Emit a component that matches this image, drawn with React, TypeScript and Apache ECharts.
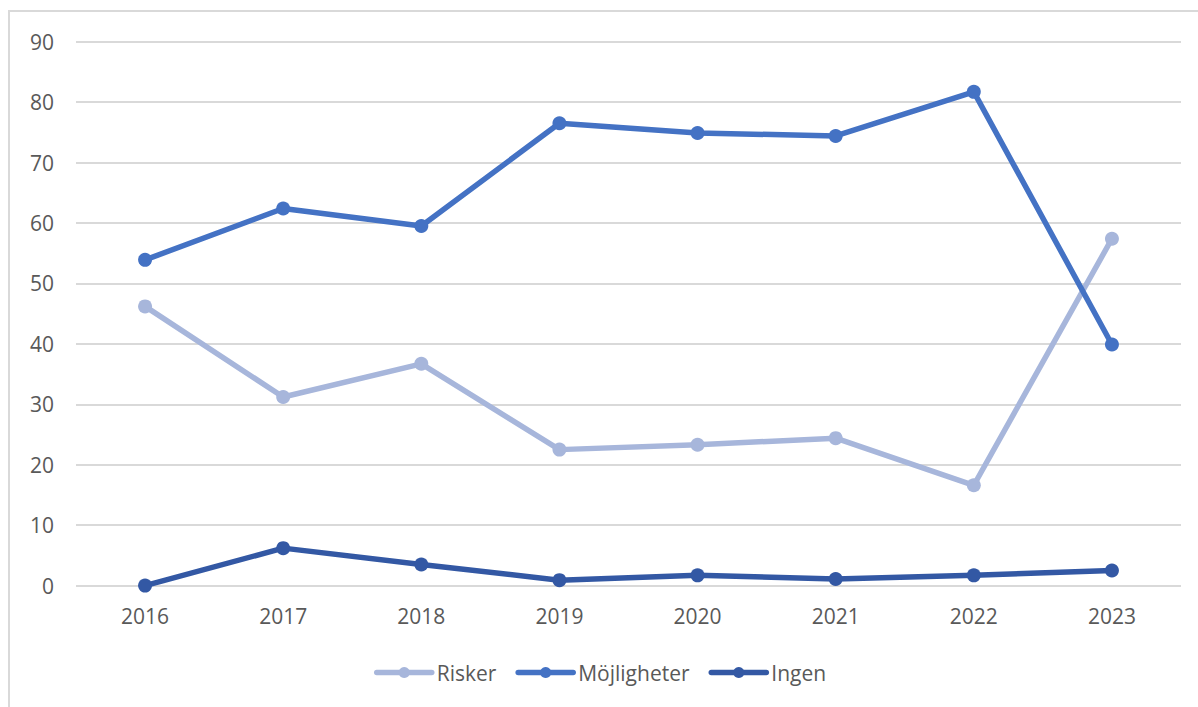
import React, { useEffect, useRef } from "react";
import * as echarts from "echarts";

const years = ["2016", "2017", "2018", "2019", "2020", "2021", "2022", "2023"];
const risker = [46.2, 31.2, 36.7, 22.5, 23.3, 24.4, 16.6, 57.4];
const mojligheter = [53.9, 62.4, 59.5, 76.5, 74.9, 74.4, 81.7, 39.9];
const ingen = [0, 6.2, 3.5, 0.9, 1.7, 1.1, 1.7, 2.5];

const FONT = "'Open Sans', 'Noto Sans', sans-serif";
const TEXT = "#595959";

function lineSeries(name: string, data: number[], color: string) {
  return {
    name,
    type: "line",
    data,
    symbol: "circle",
    symbolSize: 14,
    lineStyle: { width: 5.5, color, cap: "round", join: "round" },
    itemStyle: { color },
    emphasis: { disabled: true },
  };
}

export default function App() {
  const ref = useRef<HTMLDivElement>(null);

  useEffect(() => {
    document.body.style.margin = "0";
    const chart = echarts.init(ref.current!, undefined, { renderer: "svg" });
    chart.setOption({
      animation: false,
      backgroundColor: "#ffffff",
      graphic: [
        {
          type: "rect",
          shape: { x: 9, y: 11, width: 1200, height: 710 },
          style: { fill: "none", stroke: "#d9d9d9", lineWidth: 2 },
          silent: true,
        },
      ],
      grid: { left: 76, right: 17, top: 41.7, bottom: 121.4 },
      legend: {
        left: 369,
        top: 657,
        itemWidth: 55,
        itemHeight: 14,
        itemGap: 19,
        lineStyle: { width: 5.5, cap: "round" },
        textStyle: { color: TEXT, fontSize: 21, fontFamily: FONT },
        data: ["Risker", "Möjligheter", "Ingen"],
      },
      xAxis: {
        type: "category",
        data: years,
        boundaryGap: true,
        axisLine: { show: false },
        axisTick: { show: false },
        axisLabel: { color: TEXT, fontSize: 21, fontFamily: FONT, margin: 20 },
      },
      yAxis: {
        type: "value",
        min: 0,
        max: 90,
        interval: 10,
        axisLine: { show: false },
        axisTick: { show: false },
        axisLabel: { color: TEXT, fontSize: 21, fontFamily: FONT, margin: 22 },
        splitLine: { lineStyle: { color: "#d9d9d9", width: 2 } },
      },
      series: [
        lineSeries("Risker", risker, "#a7b6db"),
        lineSeries("Möjligheter", mojligheter, "#4472c4"),
        lineSeries("Ingen", ingen, "#3358a4"),
      ],
    });
    return () => chart.dispose();
  }, []);

  return <div ref={ref} style={{ width: 1198, height: 707 }} />;
}
